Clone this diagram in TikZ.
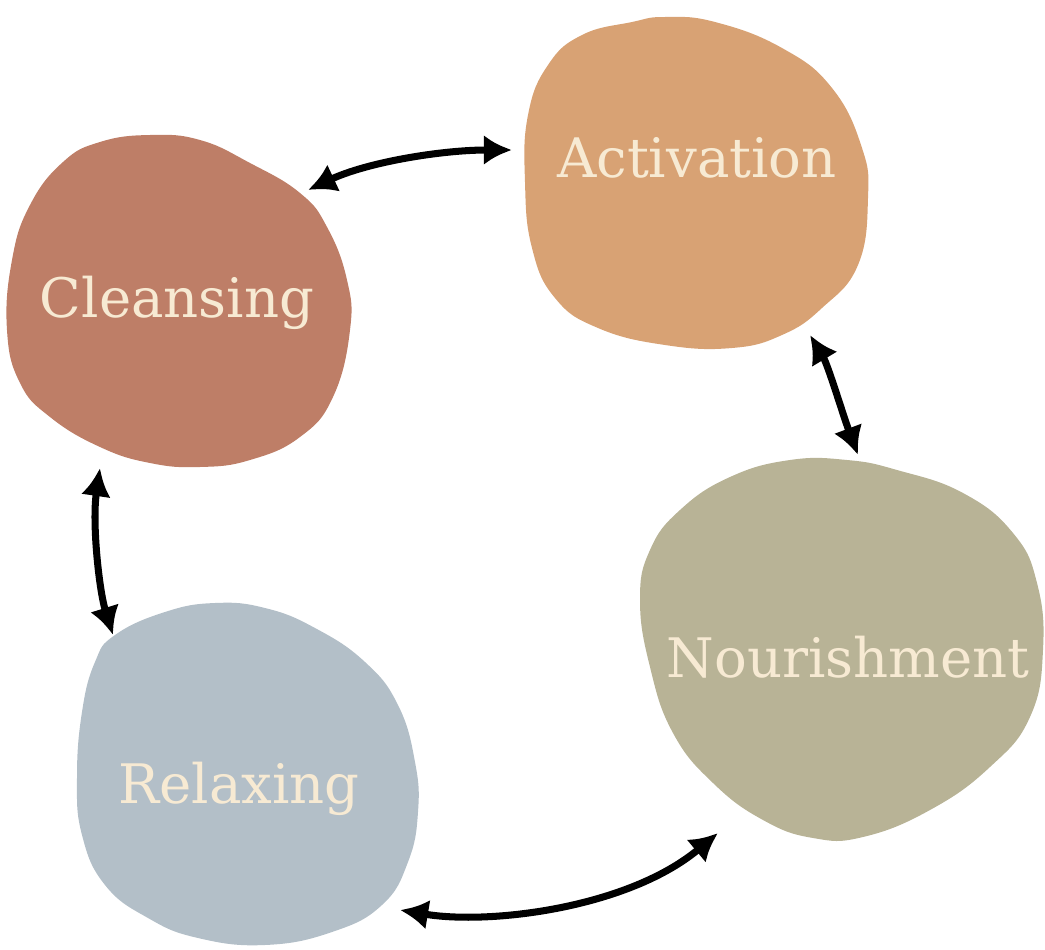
\documentclass[tikz,border=0pt]{standalone}
\usepackage{fontspec}
\setmainfont{DejaVu Serif}
\usetikzlibrary{arrows.meta}

\definecolor{cleansecol}{RGB}{190,126,103}
\definecolor{activcol}{RGB}{216,162,116}
\definecolor{nourishcol}{RGB}{184,179,150}
\definecolor{relaxcol}{RGB}{179,191,200}
\definecolor{labelcol}{RGB}{247,234,211}

\begin{document}
\begin{tikzpicture}[x=0.02cm,y=-0.02cm]

\tikzset{blob/.style = {smooth cycle, tension=0.75}}
\tikzset{label/.style = {text=labelcol, inner sep=0pt, anchor=base, font=\fontsize{31}{36}\selectfont}}
\tikzset{link/.style = {{Latex[length=16pt,width=17pt]}-{Latex[length=16pt,width=17pt]}, line width=4pt, line cap=round}}
\useasboundingbox (0,0) rectangle (1045,950);
%blobs
\fill[cleansecol] plot[blob] coordinates {(63,162) (100,142) (150,135) (200,140) (250,163) (300,193) (327,227) (347,280) (350,330) (333,397) (300,437) (250,460) (200,467) (150,463) (100,447) (50,417) (20,383) (7,330) (12,260) (30,205)};
\fill[activcol] plot[blob] coordinates {(632,22) (582,35) (548,65) (528,115) (525,182) (532,248) (555,298) (598,328) (665,345) (732,348) (782,335) (822,308) (858,265) (868,198) (862,148) (832,88) (782,48) (715,22) (665,17)};
\fill[nourishcol] plot[blob] coordinates {(790,460) (730,477) (680,510) (650,550) (640,600) (650,667) (673,733) (713,783) (763,820) (813,838) (863,837) (930,810) (990,767) (1030,717) (1043,650) (1037,583) (1013,533) (963,493) (897,470) (847,460)};
\fill[relaxcol] plot[blob] coordinates {(115,635) (165,612) (215,603) (265,608) (315,628) (365,662) (398,705) (415,762) (418,812) (408,862) (382,905) (332,932) (265,945) (198,938) (148,918) (105,885) (82,835) (77,778) (82,712) (95,662)};
%labels
\node[label] (cleansing) at (177,317) {Cleansing};
\node[label] (activation) at (697,177) {Activation};
\node[label] (nourishment) at (848,677) {Nourishment};
\node[label] (relaxing) at (239,803) {Relaxing};
%arrow ends
\coordinate (c2a) at (308,190);
\coordinate (a2c) at (512,150);
\coordinate (a2n) at (810,335);
\coordinate (n2a) at (858,455);
\coordinate (n2r) at (718,833);
\coordinate (r2n) at (400,910);
\coordinate (c2r) at (100,468);
\coordinate (r2c) at (113,635);
%arrows
\draw[link] (c2a) .. controls +(60,-28) and +(-70,0) .. (a2c);
\draw[link] (a2n) .. controls +(18,30) and +(-15,-40) .. (n2a);
\draw[link] (n2r) .. controls +(-90,75) and +(90,15) .. (r2n);
\draw[link] (c2r) .. controls +(-8,55) and +(-14,-45) .. (r2c);

\end{tikzpicture}
\end{document}
